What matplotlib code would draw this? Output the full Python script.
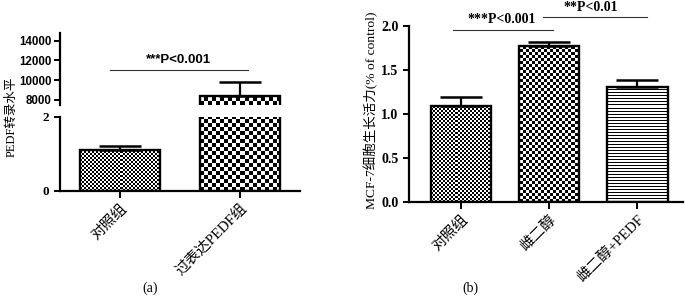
import numpy as np
import matplotlib
matplotlib.use("Agg")
import matplotlib.pyplot as plt
from matplotlib.colors import ListedColormap

plt.rcParams['font.family'] = ['Liberation Serif', 'Noto Sans CJK SC']
plt.rcParams['axes.unicode_minus'] = False

# ---------------- data ----------------
groups_a = ['对照组', '过表达PEDF组']
expr_mean = [1.1, 8400]
expr_err = [0.1, 1400]
a_upper_ticks = [8000, 10000, 12000, 14000]
a_lower_ticks = [0, 2]
sig_a = '***P<0.001'

groups_b = ['对照组', '雌二醇', '雌二醇+PEDF']
viab_mean = [1.09, 1.77, 1.30]
viab_err = [0.10, 0.05, 0.09]
b_ticks = [0.0, 0.5, 1.0, 1.5, 2.0]
sig_b1 = '***P<0.001'
sig_b2 = '**P<0.01'

ylabel_a = 'PEDF转录水平'
ylabel_b = 'MCF-7细胞生长活力(% of control)'

FIG_W, FIG_H = 685, 298
fig = plt.figure(figsize=(FIG_W / 100, FIG_H / 100), dpi=100)

EDGE_LW = 1.7
cmap_bw = ListedColormap(['white', 'black'])


def pattern_fill(ax, patch, kind, cell):
    pos = ax.get_position()
    wpx = int(round(pos.width * FIG_W))
    hpx = int(round(pos.height * FIG_H))
    yy, xx = np.mgrid[0:hpx, 0:wpx]
    if kind == 'checker':
        arr = ((xx // cell + yy // cell) % 2).astype(float)
    else:
        arr = (yy % cell == 0).astype(float)
    x0, x1 = ax.get_xlim()
    y0, y1 = ax.get_ylim()
    im = ax.imshow(arr, cmap=cmap_bw, vmin=0, vmax=1, extent=(x0, x1, y0, y1),
                   origin='lower', aspect='auto', interpolation='nearest', zorder=1)
    im.set_clip_path(patch)
    ax.set_xlim(x0, x1)
    ax.set_ylim(y0, y1)


def style_axis(ax):
    for s in ['top', 'right']:
        ax.spines[s].set_visible(False)
    ax.spines['left'].set_linewidth(1.6)
    ax.spines['bottom'].set_linewidth(1.6)
    ax.tick_params(axis='both', direction='out', width=1.4, length=4,
                   labelsize=9.5)


# ---------------- panel (a) ----------------
xa = np.arange(len(groups_a))
bw_a = 0.67
ax_lo = fig.add_axes([60 / FIG_W, 1 - 190.7 / FIG_H, 240 / FIG_W, 73.7 / FIG_H])
ax_up = fig.add_axes([60 / FIG_W, 1 - 105 / FIG_H, 240 / FIG_W, 72 / FIG_H])

for ax in (ax_lo, ax_up):
    ax.set_xlim(-0.5, 1.5)
ax_lo.set_ylim(0, 2)
ax_up.set_ylim(7494, 14780)

bars_lo = ax_lo.bar(xa, expr_mean, width=bw_a, facecolor='none',
                    edgecolor='black', linewidth=EDGE_LW, zorder=2)
bars_up = ax_up.bar(xa, expr_mean, width=bw_a, facecolor='none',
                    edgecolor='black', linewidth=EDGE_LW, zorder=2)

pattern_fill(ax_lo, bars_lo[0], 'checker', 2)
pattern_fill(ax_lo, bars_lo[1], 'checker', 4)
pattern_fill(ax_up, bars_up[1], 'checker', 4)

for ax in (ax_lo, ax_up):
    ax.errorbar(xa, expr_mean, yerr=[np.zeros(len(xa)), expr_err], fmt='none',
                ecolor='black', elinewidth=1.6, capsize=15, capthick=1.8, zorder=3)

style_axis(ax_lo)
style_axis(ax_up)
ax_lo.set_yticks(a_lower_ticks)
ax_lo.set_yticklabels([str(t) for t in a_lower_ticks], fontweight='bold',
                      fontsize=9.5)
ax_lo.set_xticks(xa)
ax_lo.set_xticklabels(groups_a, rotation=45, ha='right', va='top',
                      rotation_mode='anchor', fontsize=10.5)
ax_lo.tick_params(axis='x', length=5, pad=3)

ax_up.set_yticks(a_upper_ticks)
ax_up.set_yticklabels([str(t) for t in a_upper_ticks], fontweight='bold',
                      family=['Liberation Sans'], fontsize=8.3)
ax_up.tick_params(axis='y', pad=2)
ax_up.spines['bottom'].set_visible(False)
ax_up.set_xticks([])

ax_up.plot([-0.083, 1.067], [11000, 11000], color='#333333', lw=0.8, clip_on=False)
ax_up.text(0.49, 11450, sig_a, ha='center', va='bottom', fontsize=9.5,
           fontweight='bold', family=['Liberation Sans'])

fig.text(12 / FIG_W, 1 - 117 / FIG_H, ylabel_a, rotation=90, ha='center',
         va='center', fontsize=9)
fig.text(150 / FIG_W, 1 - 288 / FIG_H, '(a)', ha='center', va='center', fontsize=10)

# ---------------- panel (b) ----------------
xb = np.arange(len(groups_b))
bw_b = 0.69
ax_b = fig.add_axes([409 / FIG_W, 1 - 201.7 / FIG_H, 274 / FIG_W, 175.7 / FIG_H])
ax_b.set_xlim(-0.59, 2.52)
ax_b.set_ylim(0, 2.0)
bars_b = ax_b.bar(xb, viab_mean, width=bw_b, facecolor='none', edgecolor='black',
                  linewidth=EDGE_LW, zorder=2)
pattern_fill(ax_b, bars_b[0], 'checker', 2)
pattern_fill(ax_b, bars_b[1], 'checker', 3)
pattern_fill(ax_b, bars_b[2], 'lines', 3)
ax_b.errorbar(xb, viab_mean, yerr=[np.zeros(len(xb)), viab_err], fmt='none',
              ecolor='black', elinewidth=1.6, capsize=15, capthick=1.8, zorder=3)
style_axis(ax_b)
ax_b.set_yticks(b_ticks)
ax_b.set_yticklabels([f'{t:.1f}' for t in b_ticks], fontweight='bold',
                     fontsize=10)
ax_b.set_xticks(xb)
ax_b.set_xticklabels(groups_b, rotation=45, ha='right', va='top',
                     rotation_mode='anchor', fontsize=10.5)
ax_b.tick_params(axis='x', length=5, pad=3)

ax_b.plot([-0.094, 1.045], [1.96, 1.96], color='#333333', lw=0.8, clip_on=False)
ax_b.text(0.46, 1.995, sig_b1, ha='center', va='bottom', fontsize=10,
          fontweight='bold')
ax_b.plot([0.93, 2.11], [2.10, 2.10], color='#333333', lw=0.8, clip_on=False)
ax_b.text(1.47, 2.135, sig_b2, ha='center', va='bottom', fontsize=10,
          fontweight='bold')

fig.text(371 / FIG_W, 1 - 110 / FIG_H, ylabel_b, rotation=90, ha='center',
         va='center', fontsize=9.7)
fig.text(470 / FIG_W, 1 - 288 / FIG_H, '(b)', ha='center', va='center', fontsize=10)

fig.savefig('out.png', dpi=100)
